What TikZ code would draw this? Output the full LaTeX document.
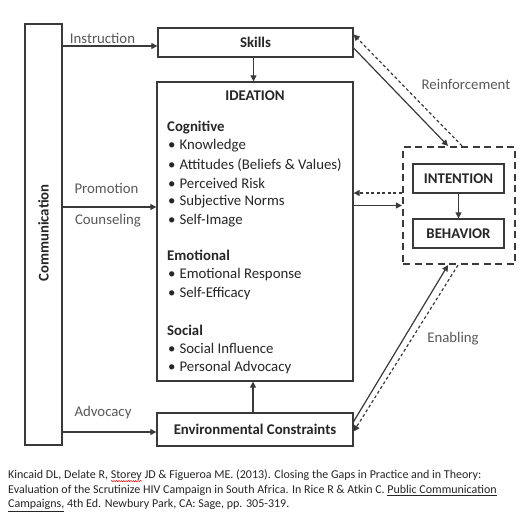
\documentclass[tikz,border=0pt]{standalone}
\usepackage{fontspec}
\setmainfont{Carlito}
\usetikzlibrary{arrows.meta,calc,decorations.pathmorphing}
\definecolor{lblc}{HTML}{595959}
\definecolor{lnc}{HTML}{3A3A3A}
\definecolor{txtc}{HTML}{262626}
\newlength\swl
\newcommand\spellwave[1]{\settowidth\swl{#1}\rlap{\raisebox{-3pt}{\tikz\draw[red,line width=0.5pt,decorate,decoration={snake,amplitude=0.6pt,segment length=2.4pt}] (0pt,0pt)--(\swl,0pt);}}#1}
\tikzset{
  box/.style={draw=lnc, line width=1.3pt, fill=white, inner sep=0pt, text=txtc,
    font=\fontsize{14.8}{18}\selectfont\bfseries},
  arr/.style={draw=lnc, line width=1.2pt, -{Triangle[length=6pt,width=6pt]}},
  dasharr/.style={arr, dash pattern=on 3pt off 2.5pt},
  lbl/.style={text=lblc, inner sep=0pt, font=\fontsize{14.8}{18}\selectfont},
  itm/.style={text=txtc, inner sep=0pt, anchor=west, font=\fontsize{14.8}{18}\selectfont},
  hdr/.style={itm, font=\fontsize{14.8}{18}\selectfont\bfseries},
}
\begin{document}
\begin{tikzpicture}[x=1pt,y=-1pt]
\useasboundingbox[fill=white] (0,0) rectangle (524,531);
% boxes
\node[box, minimum width=37pt, minimum height=421pt] (comm) at (43.5,234.5) {};
\node[rotate=90, text=txtc, inner sep=0pt, font=\fontsize{14.8}{18}\selectfont\bfseries] (commtxt) at (43.5,233) {Communication};
\node[box, minimum width=195pt, minimum height=29pt] (skills) at (255.5,42.5) {Skills};
\node[box, minimum width=196pt, minimum height=299pt] (ideation) at (255,231.5) {};
\node[box, minimum width=196pt, minimum height=33pt] (env) at (255,429.5) {Environmental Constraints};
\node[draw=lnc, line width=2.2pt, dash pattern=on 7pt off 4.5pt, minimum width=112pt, minimum height=117pt, inner sep=0pt] (outer) at (459,205.5) {};
\node[box, minimum width=91pt, minimum height=29pt] (intention) at (458.5,178.5) {INTENTION};
\node[box, minimum width=91pt, minimum height=29pt] (behavior) at (458.5,233.5) {BEHAVIOR};
% ideation content
\node[text=txtc, inner sep=0pt, font=\fontsize{14.8}{18}\selectfont\bfseries] (idt) at (255,96) {IDEATION};
\node[hdr] (cog) at (167,127.5) {Cognitive};
\node[itm] (c1) at (168,146) {\textbullet\hspace{4pt}Knowledge};
\node[itm] (c2) at (168,165) {\textbullet\hspace{4pt}Attitudes (Beliefs \& Values)};
\node[itm] (c3) at (168,183.5) {\textbullet\hspace{4pt}Perceived Risk};
\node[itm] (c4) at (168,202) {\textbullet\hspace{4pt}Subjective Norms};
\node[itm] (c5) at (168,221) {\textbullet\hspace{4pt}Self-Image};
\node[hdr] (emo) at (167,255.5) {Emotional};
\node[itm] (e1) at (168,275) {\textbullet\hspace{4pt}Emotional Response};
\node[itm] (e2) at (168,294) {\textbullet\hspace{4pt}Self-Efficacy};
\node[hdr] (soc) at (167,330) {Social};
\node[itm] (s1) at (168,348.5) {\textbullet\hspace{4pt}Social Influence};
\node[itm] (s2) at (168,367.5) {\textbullet\hspace{4pt}Personal Advocacy};
% labels
\node[lbl] (linstr) at (102.5,38) {Instruction};
\node[lbl] (lprom) at (106.5,188) {Promotion};
\node[lbl] (lcouns) at (108,221) {Counseling};
\node[lbl] (ladv) at (103,413) {Advocacy};
\node[lbl] (lreinf) at (466,84) {Reinforcement};
\node[lbl] (lenab) at (453,339) {Enabling};
% connectors
\coordinate (promY) at (0,207);
\draw[arr] ([yshift=-3.5pt]comm.east |- skills.west) -- ([yshift=-3.5pt]skills.west);
\draw[arr] (comm.east |- promY) -- (ideation.west |- promY);
\draw[arr] ([yshift=-2.5pt]comm.east |- env.west) -- ([yshift=-2.5pt]env.west);
\draw[arr] ([xshift=-2pt]skills.south) -- ([xshift=-2pt]skills.south |- ideation.north);
\draw[arr] ([xshift=-2pt]env.north) -- ([xshift=-2pt]env.north |- ideation.south);
\draw[arr] (intention.south) -- (behavior.north);
\draw[arr] (ideation.east |- outer.west) -- (outer.west);
\draw[dasharr] ([yshift=12.5pt]outer.west) -- ([yshift=12.5pt]ideation.east |- outer.west);
\draw[arr] ([yshift=-5.5pt]skills.east) -- ([xshift=-11pt]outer.north);
\draw[dasharr] ([xshift=3pt]outer.north) -- ([yshift=8pt]skills.east);
\draw[arr] ([yshift=8pt]env.east) -- ([xshift=-11pt]outer.south);
\draw[dasharr] ([xshift=-1pt]outer.south) -- ([yshift=-2pt]env.east);
% citation
\node[anchor=north west, inner sep=0pt, align=left, text=txtc, font=\fontsize{12}{14.5}\selectfont] (cite) at (8,470)
{Kincaid DL, Delate R, \spellwave{Storey} JD \& Figueroa ME. (2013). Closing the Gaps in Practice and in Theory:\\
Evaluation of the Scrutinize HIV Campaign in South Africa. In Rice R \& Atkin C. \underline{Public Communication}\\
\underline{Campaigns,} 4th Ed. Newbury Park, CA: Sage, pp. 305-319.};
\end{tikzpicture}
\end{document}
